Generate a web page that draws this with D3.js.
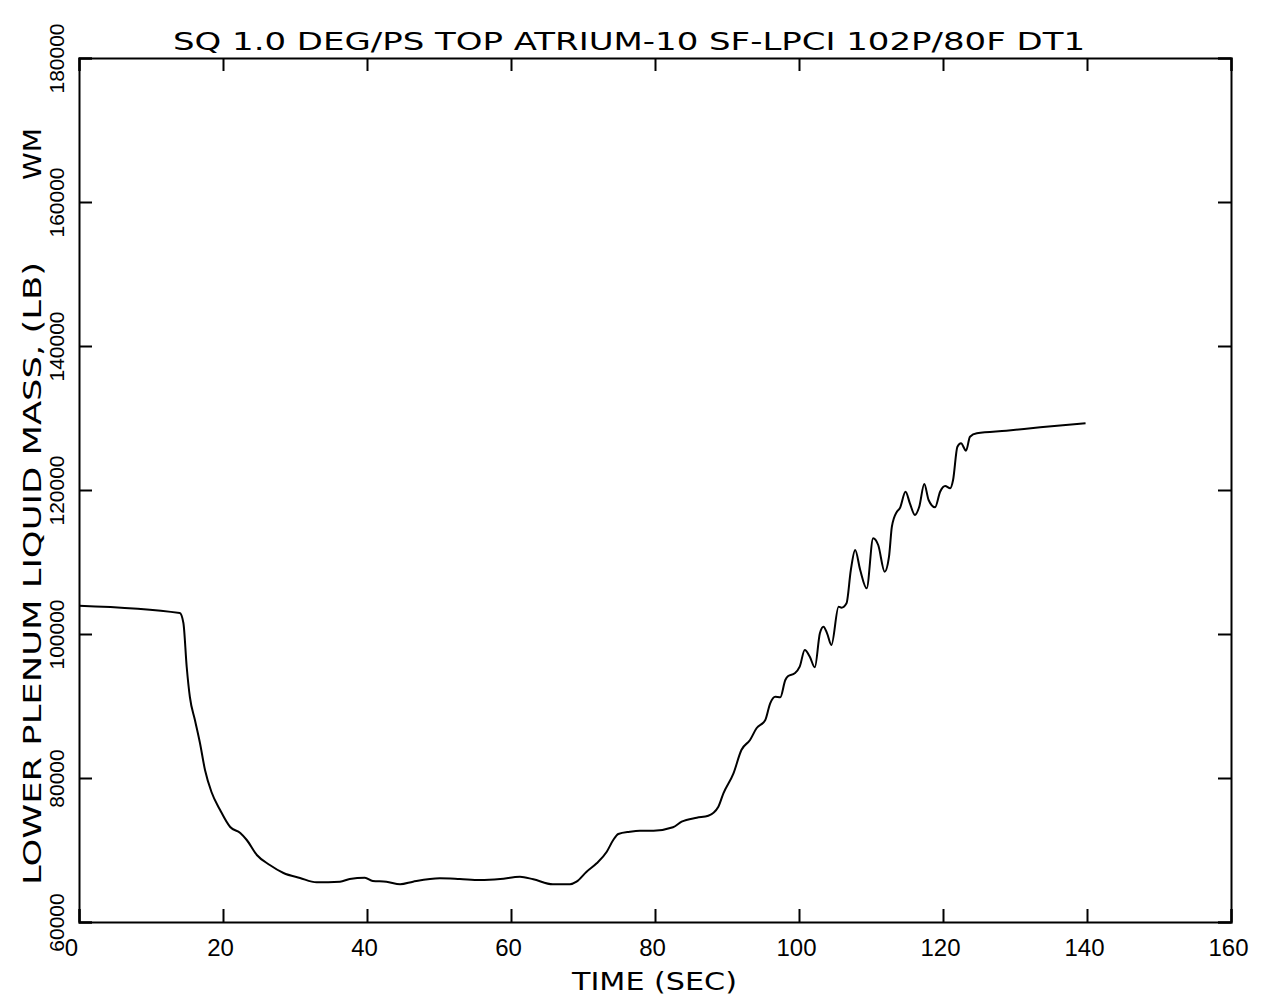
<!DOCTYPE html>
<html>
<head>
<meta charset="utf-8">
<script src="https://cdn.jsdelivr.net/npm/d3@7"></script>
<style>
  body { margin: 0; background: #fff; }
  text { font-family: "Liberation Sans", Arial, sans-serif; fill: #000; }
  text.label { font-family: "DejaVu Sans", sans-serif; }
</style>
</head>
<body>
<div id="drawing_region"></div>
<script>
// time (sec) and lower plenum liquid mass (lb)
const time = [0, 14.0, 14.5, 14.96, 15.4, 16.1, 16.8, 17.5, 18.4, 19.6, 21.0, 22.4, 23.3, 24.7, 26.5, 28.4, 30.7,
    33.0, 36.25, 37.6, 39.7, 40.8, 42.7, 44.6, 46.4, 50.1, 52.9, 55.7, 58.5, 61.25, 63.1, 65.8, 68.2, 69.1,
    70.5, 71.9, 73.3, 74.2, 74.9, 76.5, 77.9, 79.8, 82.5, 83.7, 85.8, 87.4, 88.8, 89.5, 90.9, 92.0, 93.2,
    94.1, 95.3, 96.0, 96.7, 97.4, 98.1, 98.5, 99.4, 100.1, 100.8, 101.5, 102.2, 102.9, 103.4, 103.9, 104.5,
    105.5, 105.9, 106.6, 107.2, 107.8, 108.5, 109.4, 110.3, 111.0, 111.9, 112.5, 112.9, 113.6, 114.0, 114.8,
    115.4, 116.1, 116.7, 117.4, 118.0, 118.9, 119.6, 120.3, 121.0, 121.4, 122.0, 122.5, 123.2, 123.75, 124.7,
    128.8, 133.5, 139.8];
const mass = [103930, 102917, 101528, 95417, 91250, 88056, 84861, 81111, 78055, 75555, 73194, 72361, 71389, 69306, 67917, 66806, 66111,
    65514, 65597, 65972, 66153, 65695, 65597, 65236, 65597, 66070, 65972, 65833, 65972, 66292, 65931, 65236, 65236, 65597,
    66986, 68153, 69764, 71389, 72222, 72542, 72681, 72681, 73153, 73931, 74486, 74764, 76014, 77875, 80653, 83889, 85278,
    86903, 88014, 90375, 91292, 91208, 93611, 94167, 94542, 95458, 97778, 96847, 95375, 100097, 101014, 100097, 98472,
    103792, 103653, 104264, 108889, 111667, 108889, 106347, 113292, 112361, 108653, 110736, 114903, 116986, 117458, 119764,
    118153, 116528, 117681, 120833, 118611, 117597, 119764, 120556, 120236, 121389, 126014, 126486, 125458, 127403, 127875,
    128236, 128708, 129264];

const xTicks = [0, 20, 40, 60, 80, 100, 120, 140, 160];
const yTicks = [60000, 80000, 100000, 120000, 140000, 160000, 180000];

const titleText = 'SQ 1.0 DEG/PS TOP ATRIUM-10 SF-LPCI 102P/80F DT1';
const xLabel = 'TIME (SEC)';
const yLabel = 'LOWER PLENUM LIQUID MASS, (LB)';
const yTag = 'WM';

const data = time.map((t, i) => ({ t: t, m: mass[i] }));

var config = {
    parent: '#drawing_region',
    width: 1268,
    height: 1001,
    margin: { top: 58, right: 37, bottom: 79, left: 79 }
};

const svg = d3.select(config.parent)
    .append('svg')
    .attr('width', config.width)
    .attr('height', config.height);

const inner_width = config.width - config.margin.left - config.margin.right;
const inner_height = config.height - config.margin.top - config.margin.bottom;

const chart = svg.append('g')
    .attr('transform', `translate(${config.margin.left}, ${config.margin.top})`);

const xscale = d3.scaleLinear().domain([0, 160]).range([0, inner_width]);
const yscale = d3.scaleLinear().domain([60000, 180000]).range([inner_height, 0]);

const tick = 13;

// bottom axis with labels
const xaxis_group = chart.append('g')
    .attr('transform', `translate(0, ${inner_height})`)
    .call(d3.axisBottom(xscale).tickValues(xTicks).tickSize(-tick).tickFormat(d3.format('d')));
xaxis_group.selectAll('text')
    .attr('y', 34).attr('dy', 0).attr('dx', d => d === 0 ? -8 : -3)
    .style('font-size', '24px');

// top axis, ticks only
chart.append('g')
    .call(d3.axisTop(xscale).tickValues(xTicks).tickSize(-tick).tickFormat(''));

// left axis with rotated labels
const yaxis_group = chart.append('g')
    .call(d3.axisLeft(yscale).tickValues(yTicks).tickSize(-tick).tickFormat(d3.format('d')));
yaxis_group.selectAll('text')
    .attr('transform', 'rotate(-90)')
    .attr('x', 0).attr('y', -15).attr('dy', 0)
    .attr('text-anchor', 'middle')
    .style('font-size', '21px');

// right axis, ticks only
chart.append('g')
    .attr('transform', `translate(${inner_width}, 0)`)
    .call(d3.axisRight(yscale).tickValues(yTicks).tickSize(-tick).tickFormat(''));

chart.selectAll('.domain, .tick line')
    .attr('stroke', '#000')
    .attr('stroke-width', 2);

// curve
const line = d3.line()
    .x(d => xscale(d.t))
    .y(d => yscale(d.m))
    .curve(d3.curveMonotoneX);

chart.append('path')
    .datum(data)
    .attr('d', line)
    .attr('fill', 'none')
    .attr('stroke', '#000')
    .attr('stroke-width', 2);

// titles
svg.append('text')
    .attr('class', 'label')
    .attr('x', 173).attr('y', 50)
    .attr('textLength', 912).attr('lengthAdjust', 'spacingAndGlyphs')
    .style('font-size', '24px')
    .text(titleText);

svg.append('text')
    .attr('class', 'label')
    .attr('x', 572).attr('y', 990)
    .attr('textLength', 165).attr('lengthAdjust', 'spacingAndGlyphs')
    .style('font-size', '25px')
    .text(xLabel);

svg.append('text')
    .attr('class', 'label')
    .attr('transform', 'translate(41, 885) rotate(-90)')
    .attr('textLength', 623).attr('lengthAdjust', 'spacingAndGlyphs')
    .style('font-size', '25px')
    .text(yLabel);

svg.append('text')
    .attr('class', 'label')
    .attr('transform', 'translate(41, 180) rotate(-90)')
    .attr('textLength', 52).attr('lengthAdjust', 'spacingAndGlyphs')
    .style('font-size', '25px')
    .text(yTag);
</script>
</body>
</html>
